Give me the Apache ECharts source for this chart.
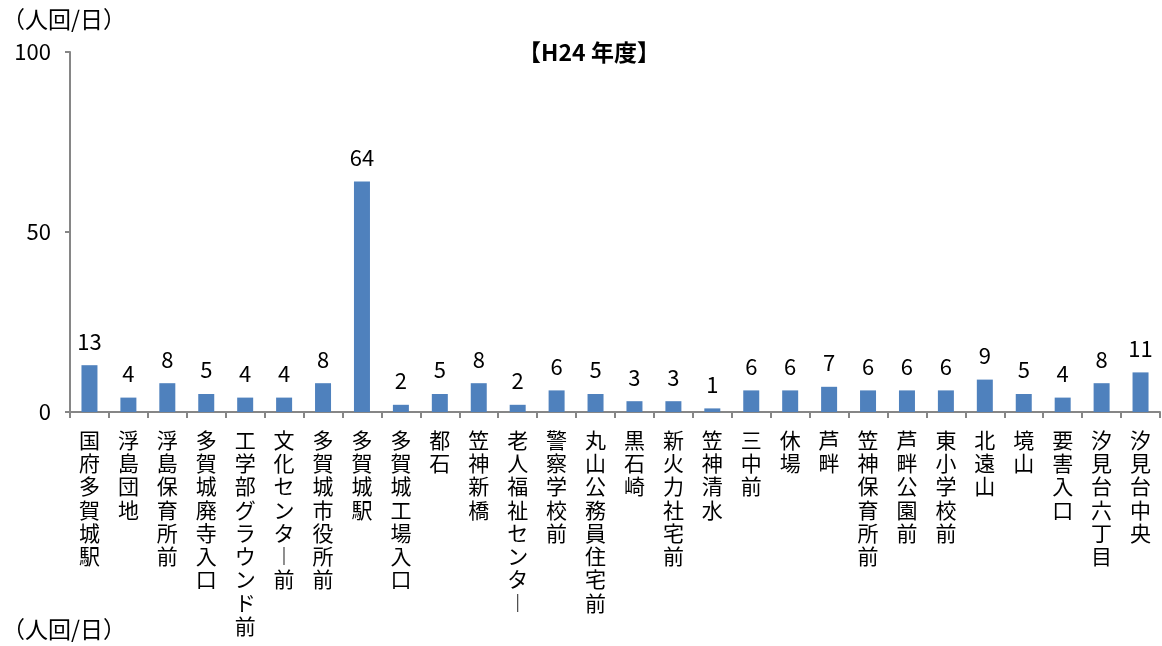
<!DOCTYPE html>
<html><head><meta charset="utf-8">
<script src="https://cdn.jsdelivr.net/npm/echarts@6/dist/echarts.min.js"></script>
<style>html,body{margin:0;padding:0;background:#fff}#c{width:1162px;height:646px}</style>
</head><body><div id="c"></div>
<script>
const categories = ['国府多賀城駅','浮島団地','浮島保育所前','多賀城廃寺入口','工学部グラウンド前','文化センター前','多賀城市役所前','多賀城駅','多賀城工場入口','都石','笠神新橋','老人福祉センター','警察学校前','丸山公務員住宅前','黒石崎','新火力社宅前','笠神清水','三中前','休場','芦畔','笠神保育所前','芦畔公園前','東小学校前','北遠山','境山','要害入口','汐見台六丁目','汐見台中央'];
const values = [13,4,8,5,4,4,8,64,2,5,8,2,6,5,3,3,1,6,6,7,6,6,6,9,5,4,8,11];
const yTicks = [0,50,100];
const unitLabel = '（人回/日）';
const titleText = '【H24 年度】';

const FONT = '"Noto Sans CJK JP", sans-serif';
const chart = echarts.init(document.getElementById('c'));
chart.setOption({
  animation:false,
  title:{text:titleText,left:584,top:36,textAlign:'center',textStyle:{fontFamily:FONT,fontSize:23,fontWeight:'bold',color:'#000'}},
  grid:{left:70,right:2,top:52,bottom:234},
  xAxis:{type:'category',data:categories,
    axisLine:{lineStyle:{color:'#868686',width:2}},
    axisTick:{show:true,length:6,lineStyle:{color:'#868686',width:2}},
    axisLabel:{interval:0,margin:16,fontFamily:FONT,fontSize:21,color:'#000',lineHeight:23.3,verticalAlign:'top',
      formatter:v=>v.replace(/ー/g,'︱').split('').join('\n')}},
  yAxis:{type:'value',min:0,max:100,interval:50,
    axisLine:{show:true,lineStyle:{color:'#868686',width:2}},
    axisTick:{show:true,length:5,lineStyle:{color:'#868686',width:2}},
    splitLine:{show:false},
    axisLabel:{margin:19,fontFamily:FONT,fontSize:22,color:'#000',
      formatter:v=>yTicks.includes(v)?String(v):''}},
  series:[{type:'bar',data:values,barWidth:16,itemStyle:{color:'#4F81BD'},
    label:{show:true,position:'top',distance:13,fontFamily:FONT,fontSize:22,color:'#000'}}],
  graphic:[
    {type:'text',left:2,top:8,style:{text:unitLabel,fontFamily:FONT,fontSize:23,fill:'#000'}},
    {type:'text',left:2,top:618,style:{text:unitLabel,fontFamily:FONT,fontSize:23,fill:'#000'}}
  ]
});
</script></body></html>
